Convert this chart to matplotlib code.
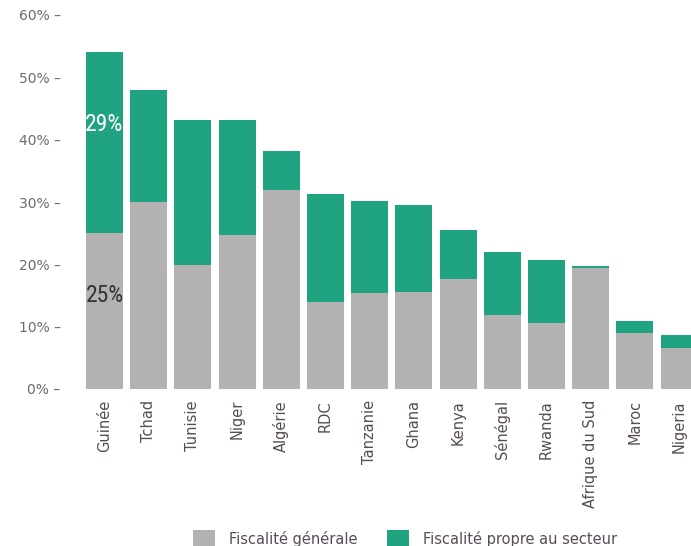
import matplotlib
matplotlib.use("Agg")
import matplotlib.pyplot as plt
from matplotlib.patches import Patch
from matplotlib import font_manager

countries = ["Guinée", "Tchad", "Tunisie", "Niger", "Algérie", "RDC", "Tanzanie",
             "Ghana", "Kenya", "Sénégal", "Rwanda", "Afrique du Sud", "Maroc", "Nigeria"]
fiscalite_generale = [25, 30, 19.9, 24.7, 31.9, 14.0, 15.4, 15.5, 17.6, 11.9, 10.6, 19.4, 9.0, 6.5]
fiscalite_secteur = [29, 18, 23.3, 18.5, 6.3, 17.3, 14.7, 14.0, 7.9, 10.1, 10.1, 0.4, 1.9, 2.2]
y_ticks = [0, 10, 20, 30, 40, 50, 60]

GRAY = "#b3b1b1"
GREEN = "#1fa380"
TEXT = "#574c57"
TICK = "#6f6a6e"


def narrow_family():
    # pick a condensed face for the large in-bar figures if one is installed
    for name in ["Liberation Sans Narrow", "DejaVu Sans Condensed", "Roboto Condensed"]:
        try:
            font_manager.findfont(font_manager.FontProperties(family=name),
                                  fallback_to_default=False)
            return name, 17
        except ValueError:
            continue
    return "DejaVu Sans", 12


W, H = 691, 546
fig = plt.figure(figsize=(W / 100, H / 100), dpi=100)
ax = fig.add_axes([80 / W, (H - 389) / H, (W - 80) / W, (389 - 15) / H])

x = list(range(len(countries)))
ax.bar(x, fiscalite_generale, width=0.84, color=GRAY, linewidth=0)
ax.bar(x, fiscalite_secteur, width=0.84, bottom=fiscalite_generale, color=GREEN, linewidth=0)

ax.set_xlim(-0.554, 13.27)
ax.set_ylim(0, 60)
ax.set_yticks(y_ticks)
ax.set_yticklabels([f"{v}% –" for v in y_ticks], fontsize=10, color=TICK,
                   family="DejaVu Sans")
ax.set_xticks(x)
ax.set_xticklabels(countries, rotation=90, fontsize=10.5, color=TEXT, family="DejaVu Sans",
                   va="top", ha="center")
ax.tick_params(axis="both", length=0)
ax.tick_params(axis="y", pad=14)
ax.tick_params(axis="x", pad=8)
for s in ax.spines.values():
    s.set_visible(False)

fam, fsize = narrow_family()
ax.text(0, fiscalite_generale[0] + fiscalite_secteur[0] * 0.6, f"{fiscalite_secteur[0]:.0f}%",
        ha="center", va="center", color="white", fontsize=fsize, family=fam)
ax.text(0, fiscalite_generale[0] * 0.6, f"{fiscalite_generale[0]:.0f}%",
        ha="center", va="center", color="#333333", fontsize=fsize, family=fam)

handles = [Patch(facecolor=GRAY, edgecolor="none", label="Fiscalité générale"),
           Patch(facecolor=GREEN, edgecolor="none", label="Fiscalité propre au secteur")]
fig.legend(handles=handles, loc="center", bbox_to_anchor=(405 / W, (H - 539) / H),
           ncol=2, frameon=False, fontsize=10.5, handlelength=1.5, handleheight=1.5,
           columnspacing=2.0, handletextpad=1.0, labelcolor=TEXT, borderpad=0)

fig.savefig("out.png", dpi=100)
